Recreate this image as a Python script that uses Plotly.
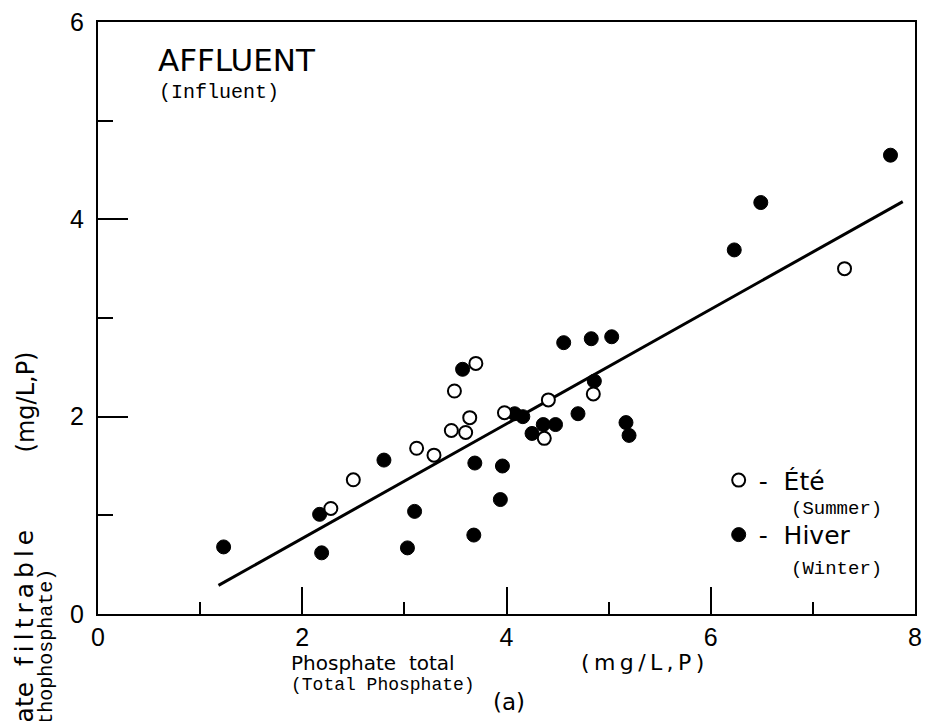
import plotly.graph_objects as go

# ---- data ----
summer_x = [2.28, 2.50, 3.12, 3.29, 3.46, 3.60, 3.64, 3.49, 3.70, 3.98, 4.41, 4.37, 4.85, 7.31]
summer_y = [1.07, 1.36, 1.68, 1.61, 1.86, 1.84, 1.99, 2.26, 2.54, 2.04, 2.17, 1.78, 2.23, 3.50]

winter_x = [1.23, 2.17, 2.19, 2.80, 3.03, 3.10, 3.68, 3.69, 3.57, 3.94, 3.96, 4.08, 4.16,
            4.25, 4.36, 4.48, 4.56, 4.70, 4.83, 4.86, 5.03, 5.17, 5.20, 6.23, 6.49, 7.76]
winter_y = [0.68, 1.01, 0.62, 1.56, 0.67, 1.04, 0.80, 1.53, 2.48, 1.16, 1.50, 2.03, 2.00,
            1.83, 1.92, 1.92, 2.75, 2.03, 2.79, 2.36, 2.81, 1.94, 1.81, 3.69, 4.17, 4.65]

fit_x = [1.18, 7.88]
fit_y = [0.29, 4.18]

x_tick_vals = [0, 2, 4, 6, 8]
x_tick_text = ["0", "2", "4", "6", "8"]
y_tick_vals = [0, 2, 4, 6]
y_tick_text = ["0", "2", "4", "6"]

# ---- layout geometry ----
W, H = 930, 721
L, R, T, B = 98, 8, 17, 107
PW, PH = W - L - R, H - T - B


def px(xp):
    return (xp - L) / PW


def py(yp):
    return (H - B - yp) / PH


SANS = "DejaVu Sans"
NUM = "Liberation Sans"
MONO = "Liberation Mono"
TS = "\u2009"  # thin space for letter spacing

fig = go.Figure()

fig.add_trace(go.Scatter(x=fit_x, y=fit_y, mode="lines",
                         line=dict(color="black", width=3), showlegend=False,
                         hoverinfo="skip"))

fig.add_trace(go.Scatter(
    x=winter_x, y=winter_y, mode="markers", name="-\u00a0\u00a0Hiver", legend="legend2",
    marker=dict(symbol="circle", size=14, color="black", line=dict(color="black", width=1))))

fig.add_trace(go.Scatter(
    x=summer_x, y=summer_y, mode="markers", name="-\u00a0\u00a0Été", legend="legend",
    marker=dict(symbol="circle", size=13, color="white", line=dict(color="black", width=2))))

axis_common = dict(showline=True, linecolor="black", linewidth=2, mirror=True,
                   showgrid=False, zeroline=False, ticks="inside", tickcolor="black",
                   tickwidth=2, tickfont=dict(family=NUM, size=25, color="black"))

fig.update_xaxes(range=[0, 8], tickvals=x_tick_vals, ticktext=x_tick_text, ticklen=27,
                 minor=dict(tickvals=[1, 3, 5, 7], ticklen=12, tickwidth=2,
                            tickcolor="black", ticks="inside"),
                 ticklabeloverflow="allow",
                 **axis_common)
fig.update_yaxes(range=[0, 6], tickvals=y_tick_vals, ticktext=y_tick_text, ticklen=30,
                 minor=dict(tickvals=[1, 3, 5], ticklen=15, tickwidth=2,
                            tickcolor="black", ticks="inside"),
                 ticklabelstandoff=7,
                 **axis_common)

ann = []


def text(s, xp, yp, size, family=SANS, xanchor="left", yanchor="middle", angle=0):
    ann.append(dict(text=s, x=px(xp), y=py(yp), xref="paper", yref="paper",
                    xanchor=xanchor, yanchor=yanchor, showarrow=False, textangle=angle,
                    font=dict(family=family, size=size, color="black")))


text("AFFLUENT", 156, 55, 31)
text("(Influent)", 158, 88, 20, MONO)
text("Phosphate\u00a0\u00a0total", 291, 663, 20)
text(TS.join("(mg/L,P)"), 583, 663, 22)
text("(Total Phosphate)", 291, 686, 18, MONO)
text("(a)", 494, 703, 23)
text("(Summer)", 795, 508, 19, MONO)
text("(Winter)", 795, 569, 19, MONO)
text("(mg/L,P)", 25, 400, 24, angle=-90, xanchor="center")
text("Phosphate\u00a0\u00a0" + TS.join("filtrable"), 24, 527, 25, angle=-90,
     xanchor="center", yanchor="top")
text("(Orthophosphate)", 46, 566, 20, MONO, angle=-90, xanchor="center", yanchor="top")

legend_common = dict(xanchor="left", yanchor="top", bgcolor="rgba(0,0,0,0)",
                     itemwidth=30, font=dict(family=SANS, size=25, color="black"))

fig.update_layout(
    width=W, height=H,
    margin=dict(l=L, r=R, t=T, b=B),
    paper_bgcolor="white", plot_bgcolor="white",
    annotations=ann,
    legend=dict(x=px(724), y=py(456), **legend_common),
    legend2=dict(x=px(724), y=py(511), **legend_common),
)

fig.write_html("out.html", config={"displayModeBar": False},
               post_script="document.body.style.margin='0';document.body.style.overflow='hidden';")
